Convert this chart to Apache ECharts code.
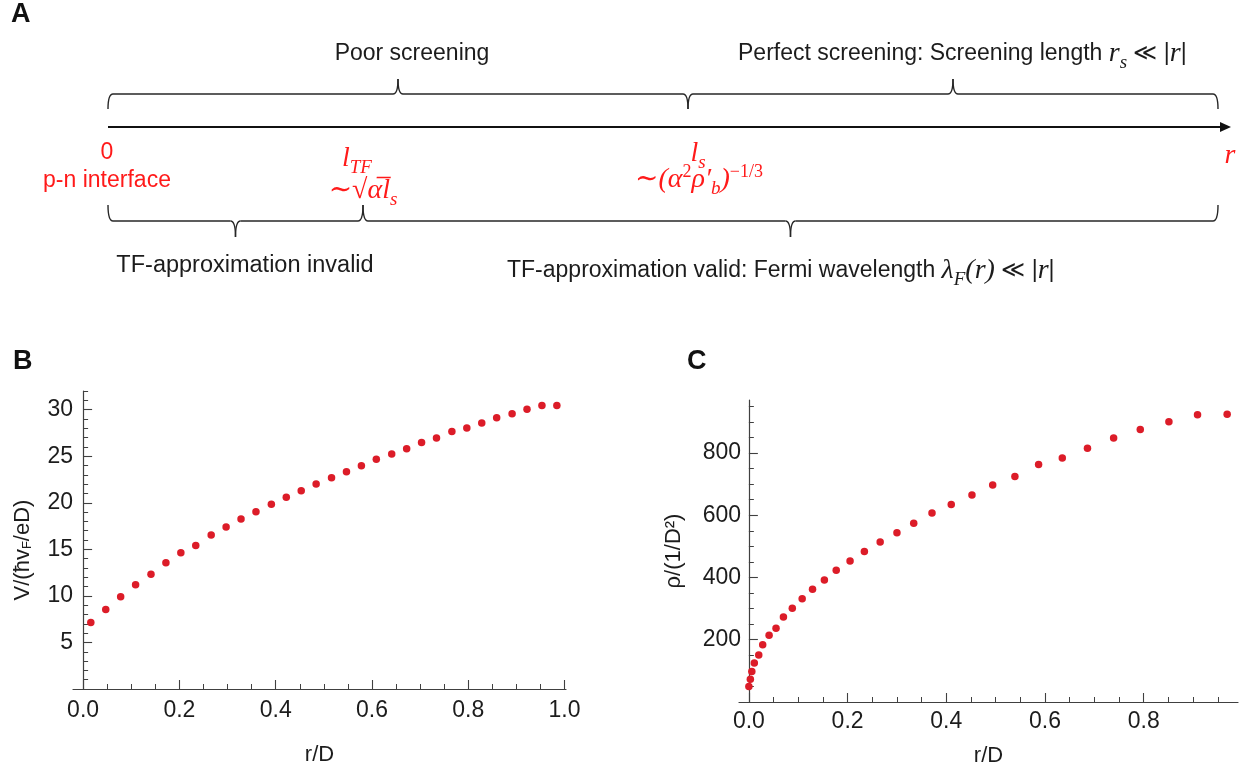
<!DOCTYPE html>
<html>
<head>
<meta charset="utf-8">
<script src="https://cdn.jsdelivr.net/npm/echarts@6/dist/echarts.min.js"></script>
<style>
html,body{margin:0;padding:0;background:#fff;}
#chart{width:1245px;height:776px;}
</style>
</head>
<body>
<div id="chart"></div>
<script>
// panel B : potential vs distance
const potentialR = [0.016, 0.047, 0.078, 0.109, 0.141, 0.172, 0.203, 0.234, 0.266, 0.297, 0.328, 0.359, 0.391, 0.422, 0.453, 0.484,
    0.516, 0.547, 0.578, 0.609, 0.641, 0.672, 0.703, 0.734, 0.766, 0.797, 0.828, 0.859, 0.891, 0.922, 0.953, 0.984];
const potentialV = [7.15, 8.55, 9.91, 11.20, 12.31, 13.56, 14.63, 15.42, 16.53, 17.39, 18.25, 19.04, 19.83, 20.58, 21.30, 22.01,
    22.69, 23.34, 23.98, 24.66, 25.24, 25.81, 26.46, 26.96, 27.64, 28.03, 28.57, 29.14, 29.57, 30.04, 30.43, 30.43];

// panel C : charge density vs distance
const densityR = [0.000, 0.003, 0.006, 0.011, 0.020, 0.028, 0.041, 0.055, 0.070, 0.088, 0.108, 0.129, 0.153, 0.177, 0.205, 0.234,
    0.266, 0.300, 0.334, 0.371, 0.410, 0.452, 0.494, 0.539, 0.587, 0.635, 0.686, 0.739, 0.793, 0.851, 0.909, 0.969];
const densityRho = [50, 73, 98, 125, 151, 184, 214, 237, 273, 301, 332, 362, 392, 423, 453, 483,
    514, 544, 574, 607, 634, 665, 697, 724, 763, 784, 815, 848, 875, 900, 923, 924];

// ticks
const rTicks = [0, 0.2, 0.4, 0.6, 0.8, 1.0];
const rMinorTicks = [0.05, 0.1, 0.15, 0.25, 0.3, 0.35, 0.45, 0.5, 0.55, 0.65, 0.7, 0.75, 0.85, 0.9, 0.95];
const densityRTicks = [0, 0.2, 0.4, 0.6, 0.8];
const potentialTicks = [5, 10, 15, 20, 25, 30];
const potentialMinorTicks = [1, 2, 3, 4, 6, 7, 8, 9, 11, 12, 13, 14, 16, 17, 18, 19, 21, 22, 23, 24, 26, 27, 28, 29, 31, 32];
const densityTicks = [200, 400, 600, 800];
const densityMinorTicks = [50, 100, 150, 250, 300, 350, 450, 500, 550, 650, 700, 750, 850, 900, 950];

const sans = '"Liberation Sans", Arial, sans-serif';
const serif = '"Liberation Serif", "DejaVu Serif", serif';
const ink = '#1c1c1c';
const axisColor = '#404040';
const red = '#ff1a1a';
const dotColor = '#dc1c28';

const mathRich = {
    m: { fontFamily: serif, fontStyle: 'italic', fontSize: 28 },
    sub: { fontFamily: serif, fontStyle: 'italic', fontSize: 19, padding: [17, 0, 0, 0] },
    sup: { fontFamily: serif, fontSize: 18, padding: [0, 0, 16, 0] }
};

const braceStyle = { fill: 'none', stroke: '#262626', lineWidth: 1.4 };

// horizontal curly brace: ends curl towards tipY, centre point towards peakY
function braceEl(x1, x2, y, tipY, peakY) {
    const m = (x1 + x2) / 2;
    const curve = (a, b, cx, cy, c, d) => ({
        type: 'bezierCurve',
        shape: { x1: a, y1: b, cpx1: cx, cpy1: cy, x2: c, y2: d },
        style: braceStyle
    });
    const line = (a, c) => ({
        type: 'line',
        shape: { x1: a, y1: y, x2: c, y2: y },
        style: braceStyle
    });
    return {
        type: 'group',
        children: [
            curve(x1, tipY, x1, y, x1 + 5, y),
            line(x1 + 5, m - 5),
            curve(m - 5, y, m, y, m, peakY),
            curve(m, peakY, m, y, m + 5, y),
            line(m + 5, x2 - 5),
            curve(x2 - 5, y, x2, y, x2, tipY)
        ]
    };
}

function label(x, y, text, opts) {
    return {
        type: 'text', x: x, y: y,
        style: Object.assign({
            text: text, fontSize: 23, fontFamily: sans, fill: ink,
            align: 'center', verticalAlign: 'middle', rich: mathRich
        }, opts || {})
    };
}

const diagram = [
    label(11, 15, 'A', { align: 'left', fontWeight: 'bold', fontSize: 27, fill: '#111' }),
    label(13, 362, 'B', { align: 'left', fontWeight: 'bold', fontSize: 27, fill: '#111' }),
    label(687, 362, 'C', { align: 'left', fontWeight: 'bold', fontSize: 27, fill: '#111' }),

    braceEl(108, 688, 94, 109, 79),
    braceEl(688, 1218, 94, 109, 79),
    braceEl(108, 363, 221, 205, 237),
    braceEl(363, 1218, 221, 205, 237),

    { type: 'line', shape: { x1: 108, y1: 127, x2: 1223, y2: 127 }, style: { stroke: '#111', lineWidth: 2.2 } },
    { type: 'polygon', shape: { points: [[1231, 127], [1220, 122], [1220, 132]] }, style: { fill: '#111' } },

    label(412, 54, 'Poor screening'),
    label(738, 54, 'Perfect screening: Screening length {m|r}{sub|s} ≪ |{m|r}|', { align: 'left' }),

    label(107, 153, '0', { fill: red }),
    label(107, 181, 'p-n interface', { fill: red }),
    label(357, 159, '{m|l}{sub|TF}', { fill: red }),
    label(363, 191, '{m|∼√α̅l}{sub|s}', { fill: red }),
    label(698, 154, '{m|l}{sub|s}', { fill: red }),
    label(699, 180, '{m|∼(α}{sup|2}{m|ρ′}{sub|b}{m|)}{sup|−1/3}', { fill: red }),
    label(1230, 156, '{m|r}', { fill: red }),

    label(245, 266, 'TF-approximation invalid', { fontSize: 23.5 }),
    label(507, 271, 'TF-approximation valid: Fermi wavelength {m|λ}{sub|F}{m|(r)} ≪ |{m|r}|', { align: 'left' })
];

function majorAxis(grid, min, max, ticks, formatter, margin, extra) {
    return Object.assign({
        type: 'value', gridIndex: grid, min: min, max: max,
        axisLine: { onZero: true, onZeroAxisIndex: grid * 2, lineStyle: { color: axisColor, width: 1.2 } },
        axisTick: { inside: true, length: 9, customValues: ticks, lineStyle: { color: axisColor, width: 1.1 } },
        axisLabel: { customValues: ticks, formatter: formatter, margin: margin, color: ink, fontSize: 23, fontFamily: sans },
        splitLine: { show: false },
        nameLocation: 'middle'
    }, extra);
}

function nameStyle(padding) {
    return {
        color: ink, fontSize: 22, fontFamily: sans, padding: padding,
        rich: { sub: { fontSize: 13, fontFamily: sans, color: ink, padding: [10, 0, 0, 0] } }
    };
}

function minorAxis(grid, min, max, ticks, extra) {
    return Object.assign({
        type: 'value', gridIndex: grid, min: min, max: max,
        axisLine: { show: false, onZero: true, onZeroAxisIndex: grid * 2 },
        axisTick: { inside: true, length: 5, customValues: ticks, lineStyle: { color: axisColor, width: 1 } },
        axisLabel: { show: false },
        splitLine: { show: false }
    }, extra);
}

const chart = echarts.init(document.getElementById('chart'), null, { renderer: 'canvas' });

chart.setOption({
    animation: false,
    backgroundColor: '#fff',
    graphic: diagram,
    grid: [
        { left: 73, top: 391, width: 493, height: 298 },
        { left: 739, top: 400, width: 499, height: 302 }
    ],
    xAxis: [
        majorAxis(0, -0.021, 1.003, rTicks, v => v.toFixed(1), 10,
            { position: 'bottom', name: 'r/D', nameGap: 55, nameTextStyle: nameStyle(0) }),
        minorAxis(0, -0.021, 1.003, rMinorTicks, { position: 'bottom' }),
        majorAxis(1, -0.02, 0.991, densityRTicks, v => v.toFixed(1), 8,
            { position: 'bottom', name: 'r/D', nameGap: 43, nameTextStyle: nameStyle(0) }),
        minorAxis(1, -0.02, 0.991, rMinorTicks, { position: 'bottom' })
    ],
    yAxis: [
        majorAxis(0, 0, 32, potentialTicks, v => String(v), 0,
            { position: 'left', name: 'V/(ħv{sub|F}/eD)', nameGap: 39, nameRotate: 90, nameTextStyle: nameStyle([0, 20, 0, 0]) }),
        minorAxis(0, 0, 32, potentialMinorTicks, { position: 'left' }),
        majorAxis(1, 0, 970, densityTicks, v => String(v), -2,
            { position: 'left', name: 'ρ/(1/D²)', nameGap: 54, nameRotate: 90, nameTextStyle: nameStyle(0) }),
        minorAxis(1, 0, 970, densityMinorTicks, { position: 'left' })
    ],
    series: [
        {
            type: 'scatter', xAxisIndex: 0, yAxisIndex: 0,
            symbolSize: 7.5, itemStyle: { color: dotColor, opacity: 1 },
            data: potentialR.map((r, i) => [r, potentialV[i]])
        },
        {
            type: 'scatter', xAxisIndex: 2, yAxisIndex: 2,
            symbolSize: 7.5, itemStyle: { color: dotColor, opacity: 1 },
            data: densityR.map((r, i) => [r, densityRho[i]])
        }
    ]
});

window.addEventListener('resize', () => chart.resize());
</script>
</body>
</html>
